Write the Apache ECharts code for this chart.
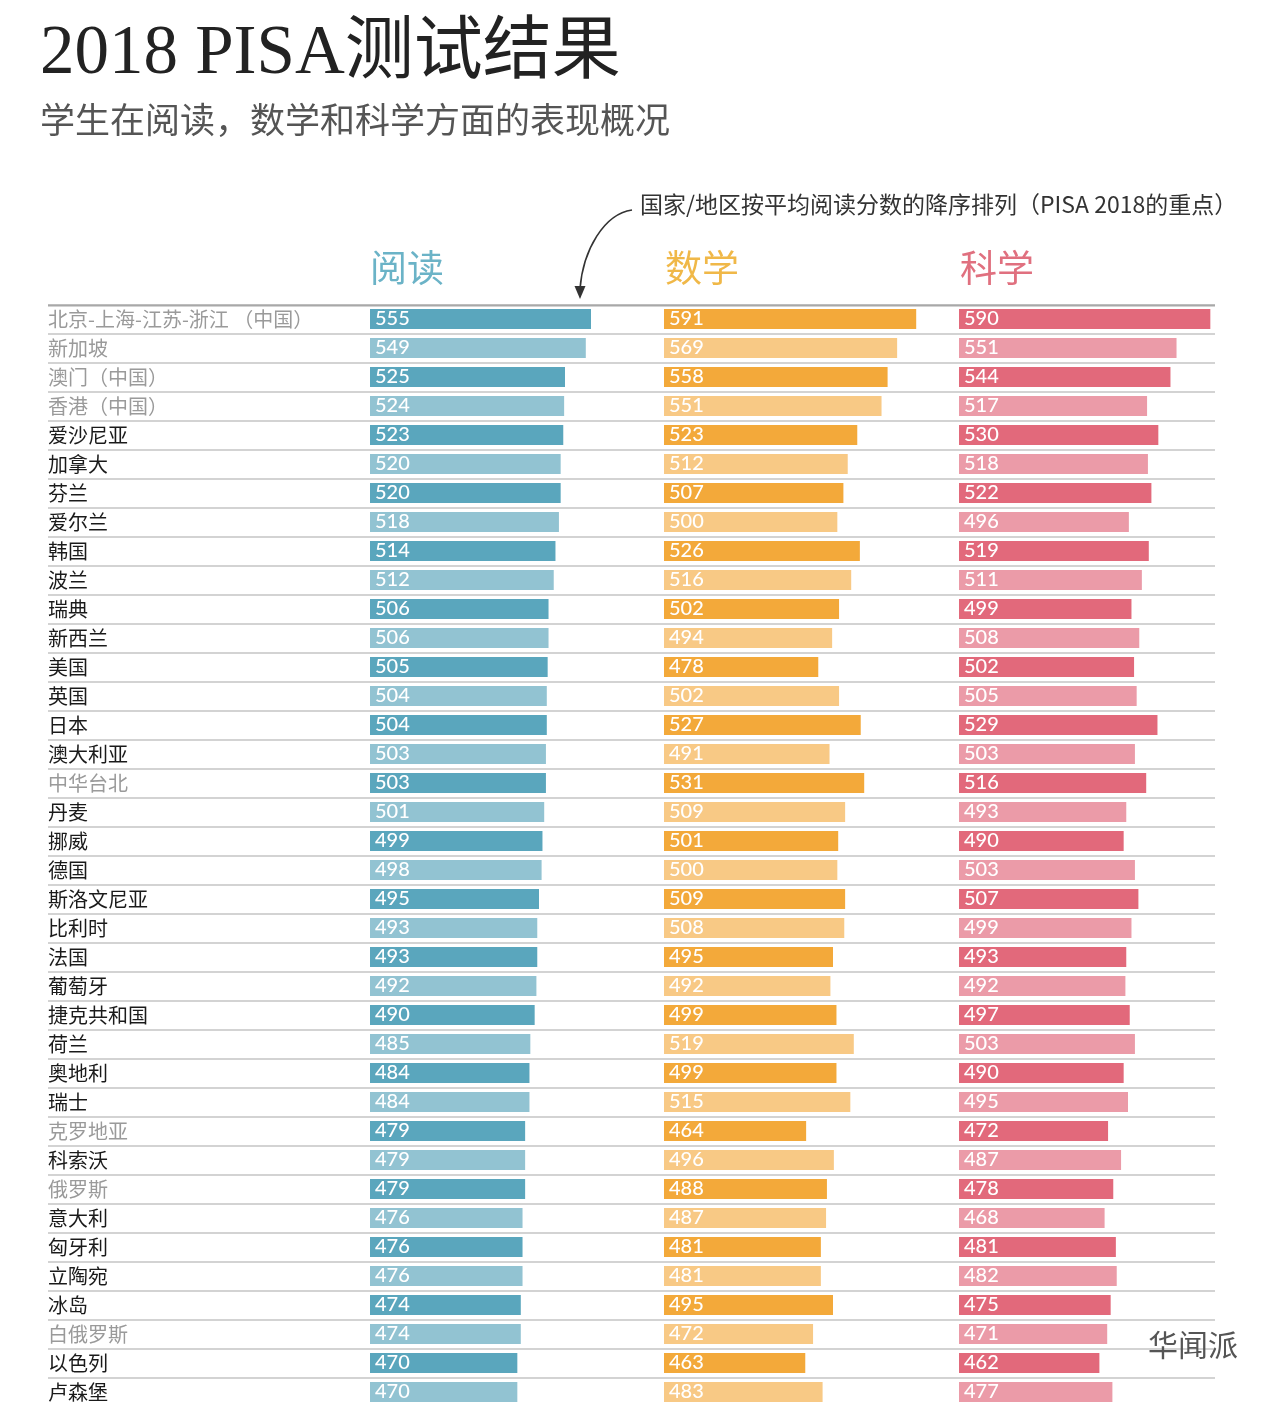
<!DOCTYPE html>
<html>
<head>
<meta charset="utf-8">
<script src="https://cdn.jsdelivr.net/npm/echarts@6/dist/echarts.min.js"></script>
<style>
html,body{margin:0;padding:0;background:#fff;}
#chart{width:1280px;height:1405px;}
</style>
</head>
<body>
<div id="chart"></div>
<script>
const countries = ['北京-上海-江苏-浙江 （中国）','新加坡','澳门（中国）','香港（中国）','爱沙尼亚','加拿大','芬兰','爱尔兰','韩国','波兰','瑞典','新西兰','美国','英国','日本','澳大利亚','中华台北','丹麦','挪威','德国','斯洛文尼亚','比利时','法国','葡萄牙','捷克共和国','荷兰','奥地利','瑞士','克罗地亚','科索沃','俄罗斯','意大利','匈牙利','立陶宛','冰岛','白俄罗斯','以色列','卢森堡'];
const reading = [555,549,525,524,523,520,520,518,514,512,506,506,505,504,504,503,503,501,499,498,495,493,493,492,490,485,484,484,479,479,479,476,476,476,474,474,470,470];
const math    = [591,569,558,551,523,512,507,500,526,516,502,494,478,502,527,491,531,509,501,500,509,508,495,492,499,519,499,515,464,496,488,487,481,481,495,472,463,483];
const science = [590,551,544,517,530,518,522,496,519,511,499,508,502,505,529,503,516,493,490,503,507,499,493,492,497,503,490,495,472,487,478,468,481,482,475,471,462,477];
const grayNames = ['北京-上海-江苏-浙江 （中国）','新加坡','澳门（中国）','香港（中国）','中华台北','克罗地亚','俄罗斯','白俄罗斯'];

const subjects = [
  {name:'阅读', data: reading, dark:'#5aa6bd', light:'#92c3d2', left:370},
  {name:'数学', data: math, dark:'#f3a93a', light:'#f8c985', left:664},
  {name:'科学', data: science, dark:'#e2697b', light:'#eb9ba8', left:959}
];

const TOP = 304.5, H = 29*countries.length;
const CJK = "'Noto Sans CJK SC','Noto Sans',sans-serif";

const grids = [], xAxes = [], yAxes = [], series = [];
// background grid spanning whole width: separators + country names
grids.push({left:48, top:TOP, width:1167, height:H, outerBoundsMode:'none', containLabel:false});
xAxes.push({type:'value', gridIndex:0, show:false, min:0, max:1});
yAxes.push({type:'category', gridIndex:0, inverse:true,
  data: countries.map(c => ({value:c, textStyle:{color: grayNames.includes(c) ? '#9a9a9a' : '#1a1a1a'}})),
  axisLine:{show:false}, axisTick:{show:false},
  axisLabel:{show:true, inside:true, margin:0, align:'left', fontFamily: CJK, fontSize: 20},
  splitLine:{show:true, lineStyle:{color:'#c4c4c4', width:1.5}}, z:0});

subjects.forEach((s, j) => {
  const i = j + 1;
  grids.push({left: s.left, top: TOP, width: 260, height: H, outerBoundsMode:'none', containLabel:false});
  xAxes.push({type:'value', gridIndex:i, min:300, max:600, show:false});
  yAxes.push({
    type:'category', gridIndex:i, inverse:true, data: countries,
    axisLine:{show:false}, axisTick:{show:false}, splitLine:{show:false}, axisLabel:{show:false}
  });
  series.push({
    type:'bar', name:s.name, xAxisIndex:i, yAxisIndex:i, barWidth:20,
    data: s.data.map((v, k) => ({value:v, itemStyle:{color: k % 2 === 0 ? s.dark : s.light}})),
    label:{show:true, position:'insideLeft', distance:5, color:'#fff', fontFamily:"Lato,'Open Sans',sans-serif", fontSize:20, fontWeight:500},
    animation:false
  });
});

const chart = echarts.init(document.getElementById('chart'), null, {renderer:'canvas'});
chart.setOption({
  backgroundColor:'#fff',
  animation:false,
  grid: grids, xAxis: xAxes, yAxis: yAxes, series: series,
  graphic: [
    {type:'text', left:40, top:20, style:{text:'2018 PISA测试结果', font:"normal 69px 'Liberation Serif','Noto Sans CJK SC',serif", fill:'#222'}},
    {type:'text', left:40, top:102, style:{text:'学生在阅读，数学和科学方面的表现概况', font:"normal 35px 'Noto Sans CJK SC',sans-serif", fill:'#555'}},
    {type:'text', left:640, top:193, style:{text:'国家/地区按平均阅读分数的降序排列（PISA 2018的重点）', font:"normal 23px 'Noto Sans CJK SC',sans-serif", fill:'#333'}},
    {type:'bezierCurve', shape:{x1:632, y1:210, cpx1:604, cpy1:214, cpx2:583, cpy2:250, x2:580, y2:289}, style:{stroke:'#333', lineWidth:1.6, fill:null}},
    {type:'polygon', shape:{points:[[574.5,286],[585.5,286],[580,299]]}, style:{fill:'#333'}},
    {type:'text', left:370, top:249, style:{text:'阅读', font:"normal 37px 'Noto Sans CJK SC',sans-serif", fill:'#6bb3c7'}},
    {type:'text', left:665, top:249, style:{text:'数学', font:"normal 37px 'Noto Sans CJK SC',sans-serif", fill:'#f0b848'}},
    {type:'text', left:960, top:249, style:{text:'科学', font:"normal 37px 'Noto Sans CJK SC',sans-serif", fill:'#e0707f'}},
    {type:'line', shape:{x1:48, y1:305.5, x2:1215, y2:305.5}, style:{stroke:'#a8a8a8', lineWidth:2}, z:5},
    {type:'text', left:1148, top:1330, style:{text:'华闻派', font:"normal 30px 'Noto Sans CJK SC',sans-serif", fill:'#555'}, z:10}
  ]
});
</script>
</body>
</html>
